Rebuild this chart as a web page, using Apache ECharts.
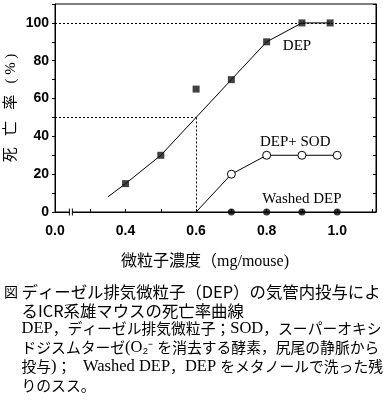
<!DOCTYPE html>
<html><head><meta charset="utf-8">
<script src="https://cdn.jsdelivr.net/npm/echarts@6/dist/echarts.min.js"></script>
<style>html,body{margin:0;padding:0;background:#fff}#c{width:384px;height:401px}</style>
</head><body><div id="c"></div>
<script>
// data
const depX = [0.4, 0.5, 0.6, 0.7, 0.8, 0.9, 0.98];
const depY = [15, 30, 65, 70, 90, 100, 100];
const fitX = [0.35, 0.4, 0.5, 0.6, 0.7, 0.8, 0.9, 0.98];
const fitY = [8, 15, 30, 50, 70, 90, 100, 100];
const sodX = [0.6, 0.7, 0.8, 0.9, 1.0];
const sodY = [0, 20, 30, 30, 30];
const washX = [0.7, 0.8, 0.9, 1.0];
const washY = [0, 0, 0, 0];
const xTickVals = [0.2, 0.4, 0.6, 0.8, 1.0];
const xTickLabels = ['0.0', '0.4', '0.6', '0.8', '1.0'];
const yTickVals = [0, 20, 40, 60, 80, 100];
const ld50 = [0.6, 50];
const fullLine = 100;
const breakX = 0.245;
const seriesLabels = [
  {text: 'DEP', x: 0.886, y: 87.8},
  {text: 'DEP+ SOD', x: 0.881, y: 37},
  {text: 'Washed DEP', x: 0.9, y: 6.7}
];
const yName = '死   亡   率   ( % )';
const xName = '微粒子濃度（mg/mouse)';
const captionHead = '図';
const captionTitle = ['ディーゼル排気微粒子（DEP）の気管内投与によ', 'るICR系雄マウスの死亡率曲線'];
// each note line is a list of text runs (justified in the original)
const captionNotes = [
  ['DEP，ディーゼル排気微粒子；SOD，スーパーオキシ'],
  ['ドジスムターゼ(O₂⁻ を消去する酵素，尻尾の静脈から'],
  ['投与)；', 'Washed DEP，DEP', 'をメタノールで洗った残'],
  ['りのスス。']
];

const XMIN = 0.2, XMAX = 1.11, YMIN = 0, YMAX = 110;
const sans = '"Liberation Sans", Arial, sans-serif';
const serif = '"Liberation Serif", "Noto Sans CJK JP", serif';
const gothic = '"Noto Sans CJK JP", sans-serif';

const zip = (a, b) => a.map((v, i) => [v, b[i]]);
const chart = echarts.init(document.getElementById('c'), null, {renderer: 'canvas'});

const option = {
  backgroundColor: '#fff',
  animation: false,
  grid: {left: 55, top: 4, right: 8, bottom: 189, show: true, borderColor: '#000', borderWidth: 1, backgroundColor: 'transparent'},
  xAxis: {
    type: 'value', min: XMIN, max: XMAX, interval: 0.1,
    axisLine: {lineStyle: {color: '#000', width: 1}},
    axisTick: {inside: true, length: 3, lineStyle: {color: '#000'}},
    splitLine: {show: false},
    axisLabel: {
      margin: 12, color: '#000', fontFamily: sans, fontSize: 14, fontWeight: 'bold',
      formatter: v => {
        const i = xTickVals.findIndex(t => Math.abs(t - v) < 1e-6);
        return i >= 0 ? xTickLabels[i] : '';
      }
    }
  },
  yAxis: [{
    type: 'value', min: YMIN, max: YMAX, interval: 10,
    axisLine: {show: true, lineStyle: {color: '#000', width: 1}},
    axisTick: {show: true, inside: false, length: 3, lineStyle: {color: '#000'}},
    splitLine: {show: false},
    axisLabel: {
      margin: 6, color: '#000', fontFamily: sans, fontSize: 14, fontWeight: 'bold',
      formatter: v => yTickVals.some(t => Math.abs(t - v) < 1e-6) ? String(Math.round(v)) : ''
    }
  }, {
    type: 'value', position: 'right', min: YMIN, max: YMAX, interval: 10,
    axisLine: {show: true, lineStyle: {color: '#000', width: 1}},
    axisTick: {show: true, inside: true, length: 3, lineStyle: {color: '#000'}},
    splitLine: {show: false},
    axisLabel: {show: false}
  }],
  series: [
    {
      type: 'line', data: zip(fitX, fitY), symbol: 'none', z: 2,
      lineStyle: {color: '#000', width: 1},
      markLine: {
        symbol: 'none', silent: true, label: {show: false},
        lineStyle: {color: '#000', width: 1, type: [2, 2]},
        data: [
          [{coord: [XMIN, fullLine]}, {coord: [XMAX, fullLine]}],
          [{coord: [XMIN, ld50[1]]}, {coord: [ld50[0], ld50[1]]}],
          [{coord: [ld50[0], ld50[1]]}, {coord: [ld50[0], YMIN]}]
        ]
      }
    },
    {
      type: 'scatter', data: zip(depX, depY), symbol: 'rect', symbolSize: 7, z: 4,
      itemStyle: {color: '#111'}
    },
    {
      type: 'line', z: 3,
      data: zip(sodX, sodY).map((p, i) => i === 0 ? {value: p, symbol: 'none'} : {value: p}),
      symbol: 'circle', symbolSize: 8, showSymbol: true,
      lineStyle: {color: '#000', width: 1},
      itemStyle: {color: '#fff', borderColor: '#000', borderWidth: 1}
    },
    {
      type: 'scatter', data: zip(washX, washY), symbol: 'circle', symbolSize: 7, z: 4,
      itemStyle: {color: '#000'}
    }
  ]
};
chart.setOption(option);

const px = (x, y) => chart.convertToPixel({gridIndex: 0}, [x, y]);
const graphics = [];
// axis break mark
const b = px(breakX, 0);
graphics.push({type: 'rect', shape: {x: b[0] - 1.5, y: b[1] - 1.5, width: 3, height: 3}, style: {fill: '#fff'}, z: 100});
graphics.push({type: 'line', shape: {x1: b[0] - 1.5, y1: b[1] - 3.5, x2: b[0] - 1.5, y2: b[1] + 3.5}, style: {stroke: '#000', lineWidth: 1}, z: 101});
graphics.push({type: 'line', shape: {x1: b[0] + 1.5, y1: b[1] - 3.5, x2: b[0] + 1.5, y2: b[1] + 3.5}, style: {stroke: '#000', lineWidth: 1}, z: 101});
// series labels
seriesLabels.forEach(l => {
  const p = px(l.x, l.y);
  graphics.push({type: 'text', x: p[0], y: p[1], z: 102,
    style: {text: l.text, font: '15px ' + serif, fill: '#000', textAlign: 'center', textVerticalAlign: 'middle'}});
});
// axis names
graphics.push({type: 'text', x: 11, y: 108, rotation: Math.PI / 2, z: 102,
  style: {text: yName, font: '15px ' + serif, fill: '#000', textAlign: 'center', textVerticalAlign: 'middle'}});
graphics.push({type: 'text', x: 205, y: 262, z: 102,
  style: {text: xName, font: '16px ' + serif, fill: '#000', textAlign: 'center', textVerticalAlign: 'middle'}});
// caption
graphics.push({type: 'text', x: 4, y: 292, z: 102,
  style: {text: captionHead, font: '14px ' + gothic, fill: '#000', textAlign: 'left', textVerticalAlign: 'middle'}});
const titleY = [292, 311];
captionTitle.forEach((t, i) => graphics.push({type: 'text', x: 21.5, y: titleY[i], z: 102,
  style: {text: t, font: '16.4px ' + gothic, fill: '#000', textAlign: 'left', textVerticalAlign: 'middle'}}));
// notes: latin runs in a serif face, Japanese runs in the CJK face
const toRich = s => s.replace(/([A-Za-z0-9 ().,]+)|([^A-Za-z0-9 ().,]+)/g,
  (m, lat, jp) => lat ? '{l|' + lat + '}' : '{j|' + jp + '}');
const richStyles = {
  l: {fontFamily: '"Liberation Serif", serif', fontSize: 16.5, fill: '#000', color: '#000'},
  j: {fontFamily: '"Noto Sans CJK JP", sans-serif', fontSize: 14.8, fill: '#000', color: '#000'}
};
const noteY = [328.5, 347.5, 366.5, 385];
// run anchors for the justified line (left, left, right)
const runPos = [[21.5, 'left'], [83, 'left'], [383, 'right']];
captionNotes.forEach((runs, i) => runs.forEach((t, k) => {
  const pos = runs.length === 1 ? [21.5, 'left'] : runPos[k];
  graphics.push({type: 'text', x: pos[0], y: noteY[i], z: 102,
    style: {text: toRich(t), fill: '#000', textAlign: pos[1], textVerticalAlign: 'middle', rich: richStyles}});
}));
chart.setOption({graphic: graphics});
</script>
</body></html>
